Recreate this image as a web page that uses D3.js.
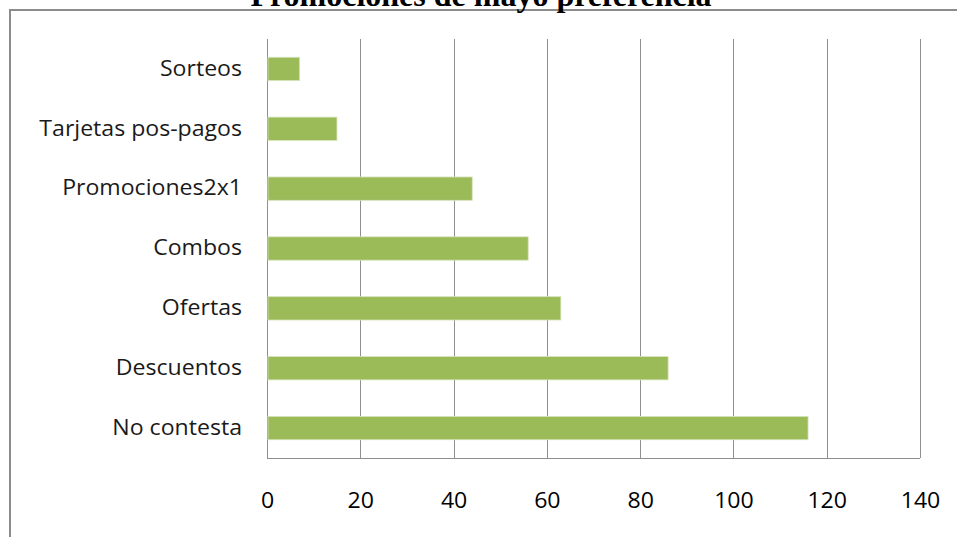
<!DOCTYPE html>
<html>
<head>
<meta charset="utf-8">
<script src="https://cdn.jsdelivr.net/npm/d3@7"></script>
<style>
  html, body { margin: 0; padding: 0; background: #fff; }
  svg { display: block; }
</style>
</head>
<body>
<svg id="chart" width="957" height="537"></svg>
<script>
// Survey answers: preferred promotion type
const categories = ["Sorteos", "Tarjetas pos-pagos", "Promociones2x1", "Combos", "Ofertas", "Descuentos", "No contesta"];
const values = [7, 15, 44, 56, 63, 86, 116];
const tickValues = [0, 20, 40, 60, 80, 100, 120, 140];
const title = "Promociones de mayo preferencia";

const W = 957, H = 537;
const margin = { left: 267, right: 37, top: 39, bottom: 79 };
const svg = d3.select("#chart");

// outer chart frame (extends past the right and bottom edges)
svg.append("rect")
  .attr("x", 10).attr("y", 10)
  .attr("width", W + 20).attr("height", H + 20)
  .attr("fill", "#fff")
  .attr("stroke", "#8c8c8c").attr("stroke-width", 2);

// title, partly clipped by the top edge
svg.append("text")
  .attr("x", 481).attr("y", 6)
  .attr("text-anchor", "middle")
  .attr("font-family", "'Liberation Serif', 'Times New Roman', serif")
  .attr("font-weight", "bold")
  .attr("font-size", 32)
  .attr("fill", "#000")
  .text(title);

const x = d3.scaleLinear().domain([0, 140]).range([margin.left, W - margin.right]);
const y = d3.scaleBand().domain(categories)
  .range([margin.top, H - margin.bottom])
  .paddingInner(0.61).paddingOuter(0.305);

// vertical gridlines
svg.append("g")
  .selectAll("line")
  .data(tickValues)
  .join("line")
  .attr("x1", d => Math.round(x(d)) + 0.5).attr("x2", d => Math.round(x(d)) + 0.5)
  .attr("y1", margin.top).attr("y2", H - margin.bottom)
  .attr("stroke", "#8f8f8f").attr("stroke-width", 1);

// bottom axis line
svg.append("line")
  .attr("x1", x(0)).attr("x2", x(140))
  .attr("y1", H - margin.bottom + 0.5).attr("y2", H - margin.bottom + 0.5)
  .attr("stroke", "#8f8f8f").attr("stroke-width", 1);

// bars
svg.append("g")
  .selectAll("rect")
  .data(categories)
  .join("rect")
  .attr("x", x(0) + 1)
  .attr("y", d => y(d))
  .attr("width", (d, i) => x(values[i]) - x(0) - 1)
  .attr("height", y.bandwidth())
  .attr("fill", "#9bbb59")
  .attr("stroke", "#d7e4bd").attr("stroke-width", 0.8);

const fontFam = "'Open Sans', Lato, sans-serif";
const stretch = 1.1; // labels are set slightly wide

// x axis tick labels
const xAxis = d3.axisBottom(x).tickValues(tickValues).tickSize(0).tickPadding(0);
const gx = svg.append("g")
  .attr("transform", `translate(0, ${H - margin.bottom + 43})`)
  .call(xAxis);
gx.select(".domain").remove();
gx.selectAll("text")
  .attr("font-family", fontFam).attr("font-size", 21).attr("fill", "#000")
  .attr("dy", "0.32em")
  .attr("transform", `scale(${stretch},1)`);

// category labels
const yAxis = d3.axisLeft(y).tickSize(0).tickPadding(0);
const gy = svg.append("g")
  .attr("transform", `translate(${margin.left - 25}, 0)`)
  .call(yAxis);
gy.select(".domain").remove();
gy.selectAll("text")
  .attr("font-family", fontFam).attr("font-size", 21).attr("fill", "#1a1a1a")
  .attr("transform", `scale(${stretch},1)`);
</script>
</body>
</html>
